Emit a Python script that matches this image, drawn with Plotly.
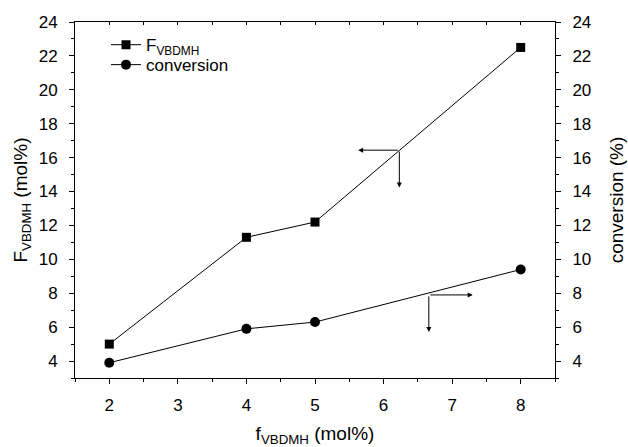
import plotly.graph_objects as go

x_vals = [2, 4, 5, 8]
F_vbdmh = [5.0, 11.3, 12.2, 22.5]
conversion = [3.9, 5.9, 6.3, 9.4]

FONT = "Liberation Sans, Arial, sans-serif"
TICKSIZE = 17
TITLESIZE = 19

fig = go.Figure()
fig.add_trace(go.Scatter(
    x=x_vals, y=F_vbdmh, mode="lines+markers", name="F<sub>VBDMH</sub>", legend="legend",
    line=dict(color="black", width=1), marker=dict(symbol="square", size=9, color="black"),
))
fig.add_trace(go.Scatter(
    x=x_vals, y=conversion, mode="lines+markers", name="conversion", yaxis="y2", legend="legend2",
    line=dict(color="black", width=1), marker=dict(symbol="circle", size=10, color="black"),
))
# invisible trace to drive the top axis
fig.add_trace(go.Scatter(x=[1.5, 8.5], y=[3, 3], xaxis="x2", mode="markers",
                         marker=dict(opacity=0), showlegend=False, hoverinfo="skip"))

axis_common = dict(showline=True, linecolor="black", linewidth=1, showgrid=False,
                   zeroline=False, ticks="outside", tickcolor="black", ticklen=5, automargin=False,
                   tickfont=dict(family=FONT, size=TICKSIZE, color="black"))

legend_common = dict(x=0.0646, xanchor="left", yanchor="middle", bgcolor="rgba(0,0,0,0)",
                     font=dict(family=FONT, size=TICKSIZE, color="black"), itemwidth=30)

fig.update_layout(
    width=628, height=447,
    margin=dict(l=75, r=73, t=22, b=69, autoexpand=False),
    plot_bgcolor="white", paper_bgcolor="white",
    font=dict(family=FONT, color="black"),
    showlegend=True,
    legend=dict(y=0.935, **legend_common),
    legend2=dict(y=0.879, **legend_common),
    xaxis=dict(range=[1.5, 8.5], tickvals=[2, 3, 4, 5, 6, 7, 8], ticklabelstandoff=7,
               minor=dict(ticks="outside", ticklen=3, tickcolor="black", dtick=0.5, tick0=0),
               title=dict(text="f<sub>VBDMH</sub> (mol%)",
                          font=dict(family=FONT, size=TITLESIZE, color="black"), standoff=18),
               **axis_common),
    xaxis2=dict(range=[1.5, 8.5], overlaying="x", side="top", showline=True, linecolor="black",
                ticks="inside", ticklen=3, tickcolor="black", dtick=0.5, tick0=0, automargin=False,
                showticklabels=False, showgrid=False, zeroline=False),
    yaxis=dict(range=[3, 24], tickvals=[4, 6, 8, 10, 12, 14, 16, 18, 20, 22, 24], ticklabelstandoff=8,
               minor=dict(ticks="outside", ticklen=3, tickcolor="black", dtick=1, tick0=0),
               title=dict(text="F<sub>VBDMH</sub> (mol%)",
                          font=dict(family=FONT, size=TITLESIZE, color="black"), standoff=6),
               **axis_common),
    yaxis2=dict(range=[3, 24], overlaying="y", side="right", tickvals=[4, 6, 8, 10, 12, 14, 16, 18, 20, 22, 24],
                ticklabelstandoff=8,
                minor=dict(ticks="outside", ticklen=3, tickcolor="black", dtick=1, tick0=0),
                title=dict(text="conversion (%)",
                           font=dict(family=FONT, size=TITLESIZE, color="black"), standoff=19),
                **axis_common),
)

arrow_style = dict(showarrow=True, arrowhead=2, arrowsize=1, arrowwidth=1, arrowcolor="black",
                   text="", axref="x", ayref="y", xref="x", yref="y")
# arrow pointing to left axis for F_VBDMH
fig.add_annotation(x=5.63, y=16.44, ax=6.23, ay=16.44, **arrow_style)
fig.add_annotation(x=6.23, y=14.24, ax=6.23, ay=16.44, **arrow_style)
# arrow pointing to right axis for conversion
fig.add_annotation(x=7.3, y=7.9, ax=6.66, ay=7.9, **arrow_style)
fig.add_annotation(x=6.66, y=5.72, ax=6.66, ay=7.9, **arrow_style)

fig.write_html("out.html")
